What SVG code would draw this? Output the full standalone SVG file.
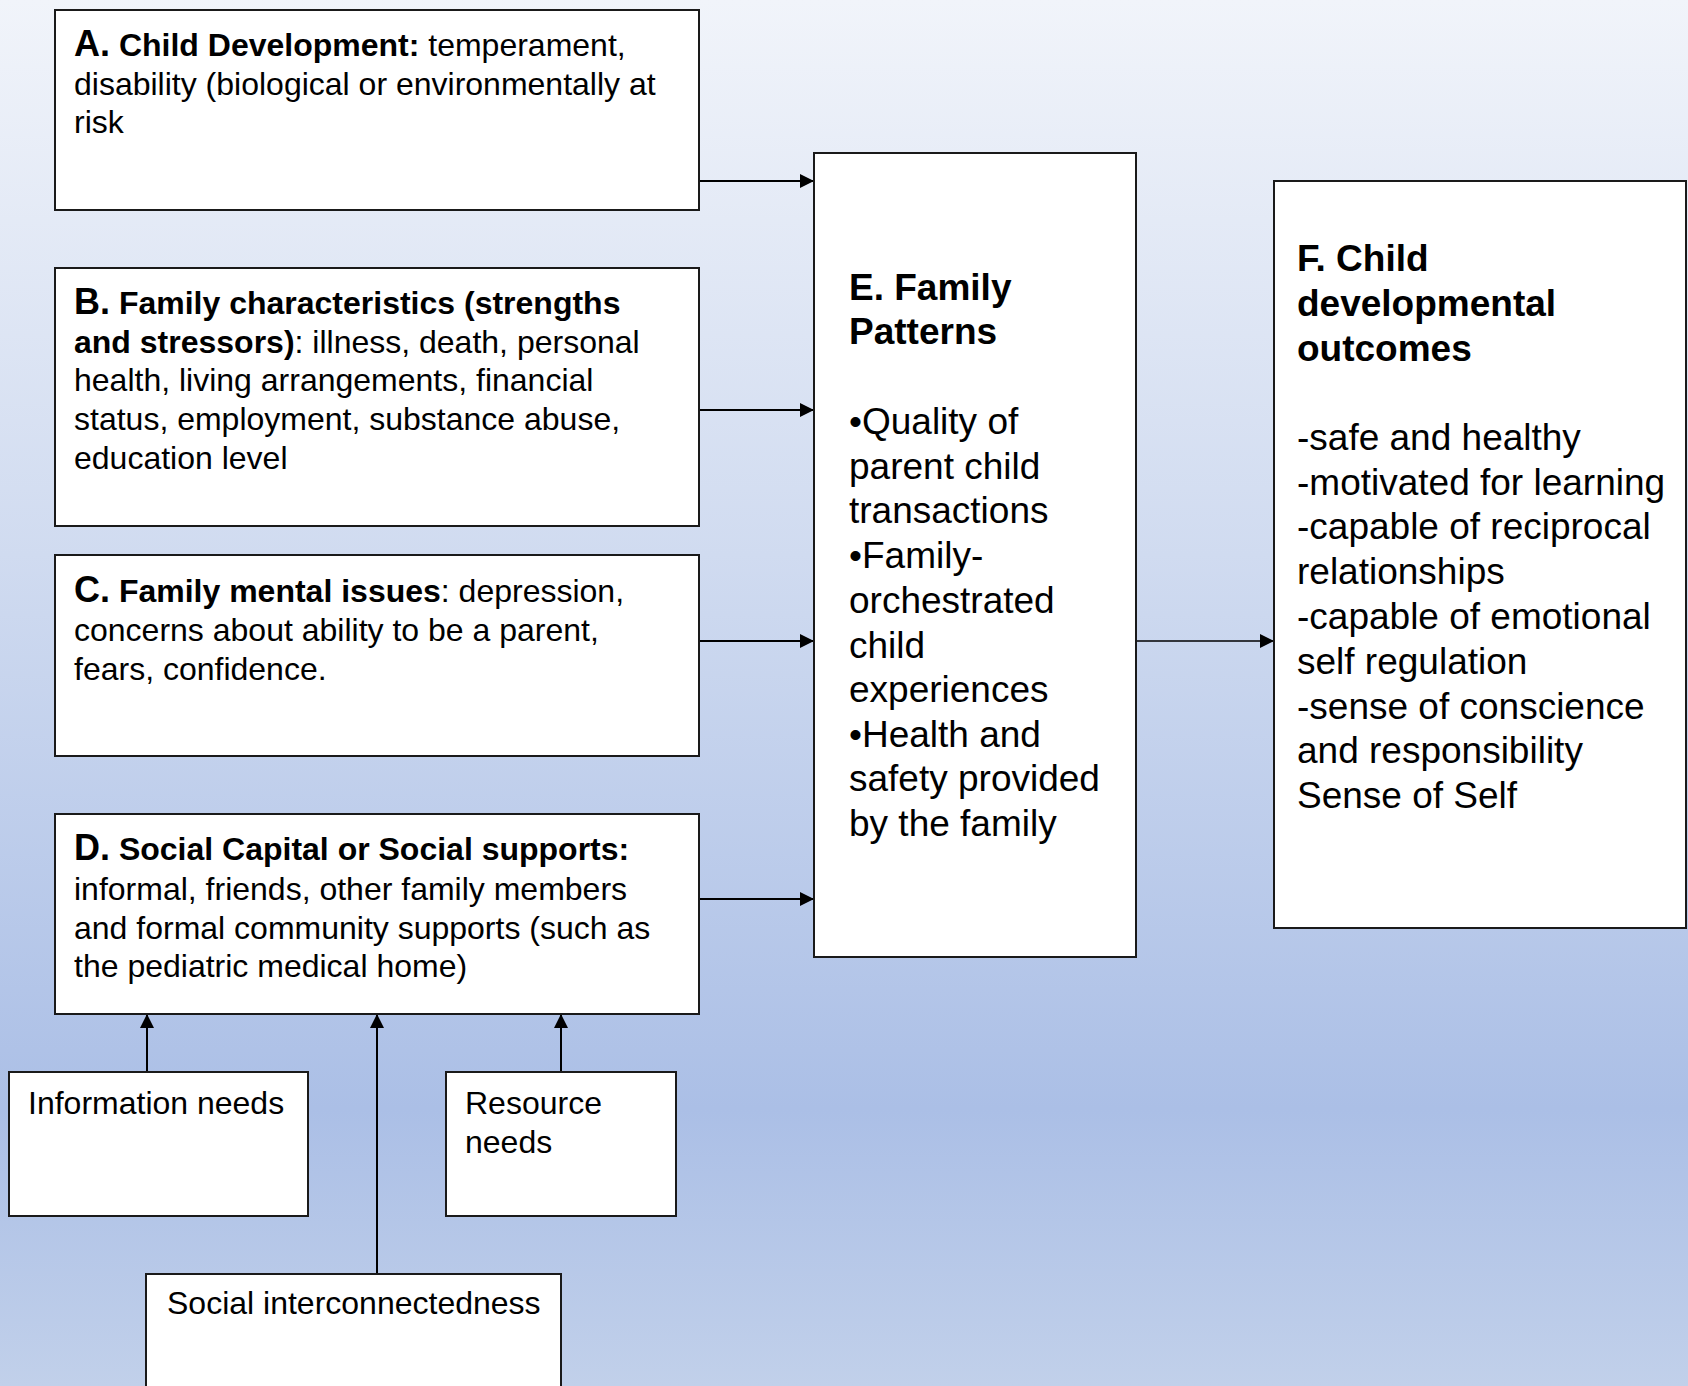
<svg xmlns="http://www.w3.org/2000/svg" width="1688" height="1386" viewBox="0 0 1688 1386">
<defs>
<linearGradient id="bg" x1="0" y1="0" x2="0" y2="1">
<stop offset="0" stop-color="#f1f4fa"/>
<stop offset="0.4" stop-color="#d0dbf0"/>
<stop offset="0.8" stop-color="#abbfe6"/>
<stop offset="1" stop-color="#c1d0ea"/>
</linearGradient>
<marker id="ah" viewBox="0 0 10 10" refX="10" refY="5" markerWidth="14" markerHeight="14" markerUnits="userSpaceOnUse" orient="auto">
<path d="M0,0 L10,5 L0,10 z" fill="#000"/>
</marker>
<style>
.box{fill:#fff;stroke:#1a1a1a;stroke-width:2}
.t{font-family:"Liberation Sans",Arial,sans-serif;font-size:32px;fill:#000}
.b{font-weight:bold}
.big{font-size:37px}
.lead{font-size:36px;font-weight:bold}
.c{stroke:#000;stroke-width:2;fill:none;marker-end:url(#ah)}
</style>
</defs>
<rect x="0" y="0" width="1688" height="1386" fill="url(#bg)"/>
<g id="connectors">
<line class="c" x1="699" y1="181" x2="814" y2="181"/>
<line class="c" x1="699" y1="410" x2="814" y2="410"/>
<line class="c" x1="699" y1="641" x2="814" y2="641"/>
<line class="c" x1="699" y1="899" x2="814" y2="899"/>
<line class="c" x1="1136" y1="641" x2="1274" y2="641" style="stroke-width:1.6"/>
<line class="c" x1="147" y1="1072" x2="147" y2="1014"/>
<line class="c" x1="377" y1="1274" x2="377" y2="1014"/>
<line class="c" x1="561" y1="1072" x2="561" y2="1014"/>
</g>
<g id="nodeA">
<rect class="box" x="55" y="10" width="644" height="200"/>
<text class="t" x="74" y="56"><tspan class="lead">A.</tspan><tspan class="b"> Child Development:</tspan> temperament,</text>
<text class="t" x="74" y="95">disability (biological or environmentally at</text>
<text class="t" x="74" y="133">risk</text>
</g>
<g id="nodeB">
<rect class="box" x="55" y="268" width="644" height="258"/>
<text class="t" x="74" y="314"><tspan class="lead">B.</tspan><tspan class="b"> Family characteristics (strengths</tspan></text>
<text class="t" x="74" y="353"><tspan class="b">and stressors)</tspan>: illness, death, personal</text>
<text class="t" x="74" y="391">health, living arrangements, financial</text>
<text class="t" x="74" y="430">status, employment, substance abuse,</text>
<text class="t" x="74" y="469">education level</text>
</g>
<g id="nodeC">
<rect class="box" x="55" y="555" width="644" height="201"/>
<text class="t" x="74" y="602"><tspan class="lead">C.</tspan><tspan class="b"> Family mental issues</tspan>: depression,</text>
<text class="t" x="74" y="641">concerns about ability to be a parent,</text>
<text class="t" x="74" y="680">fears, confidence.</text>
</g>
<g id="nodeD">
<rect class="box" x="55" y="814" width="644" height="200"/>
<text class="t" x="74" y="860"><tspan class="lead">D.</tspan><tspan class="b"> Social Capital or Social supports:</tspan></text>
<text class="t" x="74" y="900">informal, friends, other family members</text>
<text class="t" x="74" y="939">and formal community supports (such as</text>
<text class="t" x="74" y="977">the pediatric medical home)</text>
</g>
<g id="nodeE">
<rect class="box" x="814" y="153" width="322" height="804"/>
<text class="t big b" x="849" y="300">E. Family</text>
<text class="t big b" x="849" y="344">Patterns</text>
<text class="t big" x="849" y="434">•Quality of</text>
<text class="t big" x="849" y="479">parent child</text>
<text class="t big" x="849" y="523">transactions</text>
<text class="t big" x="849" y="568">•Family-</text>
<text class="t big" x="849" y="613">orchestrated</text>
<text class="t big" x="849" y="658">child</text>
<text class="t big" x="849" y="702">experiences</text>
<text class="t big" x="849" y="747">•Health and</text>
<text class="t big" x="849" y="791">safety provided</text>
<text class="t big" x="849" y="836">by the family</text>
</g>
<g id="nodeF">
<rect class="box" x="1274" y="181" width="412" height="747"/>
<text class="t big b" x="1297" y="271">F. Child</text>
<text class="t big b" x="1297" y="316">developmental</text>
<text class="t big b" x="1297" y="361">outcomes</text>
<text class="t big" x="1297" y="450">-safe and healthy</text>
<text class="t big" x="1297" y="495">-motivated for learning</text>
<text class="t big" x="1297" y="539">-capable of reciprocal</text>
<text class="t big" x="1297" y="584">relationships</text>
<text class="t big" x="1297" y="629">-capable of emotional</text>
<text class="t big" x="1297" y="674">self regulation</text>
<text class="t big" x="1297" y="719">-sense of conscience</text>
<text class="t big" x="1297" y="763">and responsibility</text>
<text class="t big" x="1297" y="808">Sense of Self</text>
</g>
<g id="nodeInfo">
<rect class="box" x="9" y="1072" width="299" height="144"/>
<text class="t" x="28" y="1114">Information needs</text>
</g>
<g id="nodeResource">
<rect class="box" x="446" y="1072" width="230" height="144"/>
<text class="t" x="465" y="1114">Resource</text>
<text class="t" x="465" y="1153">needs</text>
</g>
<g id="nodeSocial">
<rect class="box" x="146" y="1274" width="415" height="140"/>
<text class="t" x="167" y="1314">Social interconnectedness</text>
</g>
</svg>
